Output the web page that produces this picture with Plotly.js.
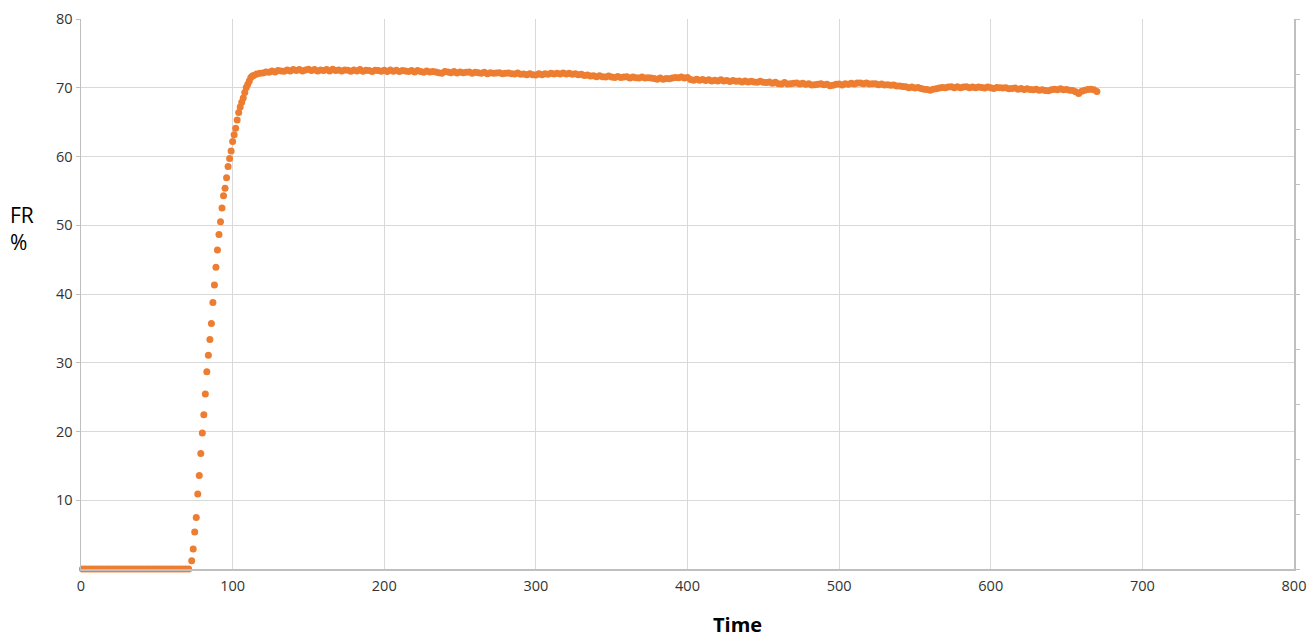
<!DOCTYPE html>
<html>
<head>
<meta charset="utf-8">
<script src="https://cdn.plot.ly/plotly-3.0.1.min.js"></script>
<style>html,body{margin:0;padding:0;background:#fff;}#chart{width:1312px;height:638px;}</style>
</head>
<body>
<div id="chart"></div>
<script>
// ---- data ----
// baseline segment: time 1..71 step 2, FR = 0
var baseStart = 1, baseStep = 2;
var baseValues = [0,0,0,0,0,0,0,0,0,0,0,0,0,0,0,0,0,0,0,0,0,0,0,0,0,0,0,0,0,0,0,0,0,0,0,0];
// rising segment: time 73..113 step 1
var riseStart = 73, riseStep = 1;
var riseValues = [1.2,2.9,5.4,7.5,10.9,13.6,16.8,19.8,22.45,25.45,
  28.7,31.1,33.4,35.7,38.75,41.3,43.9,46.4,48.65,50.5,
  52.5,54.3,55.4,56.9,58.55,59.7,60.8,62.2,63.15,64.1,
  65.3,66.4,67.2,67.9,68.5,69.3,70.05,70.5,71.0,71.5,71.7];
// plateau segment: time 114..670 step 2
var plateauStart = 114, plateauStep = 2;
var plateauValues = [
  71.8,72.0,72.1,72.15,72.3,72.25,72.45,72.3,72.5,72.45,
  72.4,72.6,72.45,72.65,72.5,72.65,72.45,72.6,72.7,72.5,
  72.65,72.45,72.6,72.5,72.65,72.45,72.7,72.5,72.6,72.45,
  72.6,72.55,72.4,72.6,72.45,72.65,72.4,72.55,72.5,72.35,
  72.55,72.5,72.4,72.55,72.35,72.6,72.4,72.55,72.35,72.5,
  72.45,72.35,72.5,72.3,72.5,72.35,72.25,72.45,72.3,72.35,
  72.3,72.2,72.1,72.35,72.3,72.2,72.35,72.15,72.3,72.2,
  72.25,72.3,72.1,72.25,72.2,72.1,72.25,72.05,72.2,72.1,
  72.15,72.2,72.05,72.1,72.15,72.05,72.0,72.15,71.95,72.0,
  71.9,72.05,71.9,71.85,72.05,71.9,72.05,71.95,72.1,72.0,
  72.1,72.0,72.15,72.0,72.1,71.95,72.05,71.9,71.95,71.8,
  71.85,71.7,71.75,71.6,71.75,71.6,71.55,71.7,71.55,71.5,
  71.65,71.5,71.55,71.6,71.4,71.55,71.45,71.4,71.55,71.4,
  71.45,71.4,71.35,71.25,71.4,71.25,71.35,71.3,71.4,71.5,
  71.45,71.55,71.4,71.5,71.2,71.1,71.25,71.1,71.2,71.05,
  71.15,71.0,71.1,71.0,71.15,71.0,71.05,70.9,71.05,70.95,
  71.0,70.85,71.0,70.85,70.95,70.85,70.8,70.95,70.8,70.75,
  70.85,70.65,70.8,70.6,70.55,70.75,70.55,70.6,70.65,70.7,
  70.55,70.65,70.5,70.6,70.4,70.45,70.5,70.6,70.45,70.5,
  70.3,70.35,70.5,70.55,70.4,70.6,70.5,70.65,70.55,70.7,
  70.7,70.6,70.7,70.55,70.6,70.6,70.45,70.55,70.4,70.45,
  70.35,70.4,70.25,70.25,70.2,70.15,70.0,70.1,69.95,70.05,
  69.9,69.8,69.75,69.65,69.8,69.85,69.95,70.05,70.0,70.1,
  70.15,70.0,70.15,70.0,70.1,70.15,70.0,70.1,70.0,70.1,
  70.05,69.95,70.1,70.0,69.9,70.05,70.0,69.95,70.0,69.85,
  69.9,69.95,69.8,69.9,69.75,69.85,69.75,69.7,69.8,69.65,
  69.7,69.6,69.55,69.7,69.8,69.7,69.85,69.7,69.75,69.65,
  69.6,69.4,69.15,69.5,69.65,69.75,69.8,69.7,69.45];
var xTickVals = [0,100,200,300,400,500,600,700,800];
var yTickVals = [10,20,30,40,50,60,70,80];
var xTitle = 'Time';
var yTitle = 'FR<br>%';

// ---- build series ----
var times = [], values = [];
function addSeg(start, step, vals){
  for (var i = 0; i < vals.length; i++){ times.push(start + i*step); values.push(vals[i]); }
}
addSeg(baseStart, baseStep, baseValues);
addSeg(riseStart, riseStep, riseValues);
addSeg(plateauStart, plateauStep, plateauValues);

var orange = '#ED7D31';
var trace = {
  x: times, y: values, type: 'scatter', mode: 'markers',
  marker: {color: orange, size: 7, line: {width: 0}},
  cliponaxis: false, hoverinfo: 'x+y', showlegend: false
};
var dummy = {x: [0], y: [0], yaxis: 'y2', type: 'scatter', mode: 'markers',
  marker: {opacity: 0}, showlegend: false, hoverinfo: 'skip'};

var layout = {
  width: 1312, height: 638,
  margin: {l: 81, r: 18, t: 19, b: 69},
  paper_bgcolor: '#ffffff', plot_bgcolor: '#ffffff',
  font: {family: 'Open Sans, sans-serif', size: 14, color: '#333333'},
  showlegend: false,
  xaxis: {
    range: [0, 800], tickvals: xTickVals, ticktext: xTickVals.map(String),
    showgrid: true, gridcolor: '#d9d9d9', gridwidth: 1,
    showline: true, linecolor: '#bfbfbf', linewidth: 1.5,
    ticks: '', zeroline: false, ticklabelstandoff: 3,
    tickfont: {family: 'Open Sans, sans-serif', size: 14.5, color: '#333333'}
  },
  yaxis: {
    range: [0, 80], tickvals: yTickVals, ticktext: yTickVals.map(String),
    showgrid: true, gridcolor: '#d9d9d9', gridwidth: 1,
    showline: true, linecolor: '#bfbfbf', linewidth: 1.5,
    ticks: 'outside', ticklen: 4, tickcolor: '#bfbfbf', zeroline: false,
    tickfont: {family: 'Open Sans, sans-serif', size: 14.5, color: '#333333'}
  },
  yaxis2: {
    overlaying: 'y', side: 'right', range: [0, 10], dtick: 1,
    showgrid: false, showline: true, linecolor: '#bfbfbf', linewidth: 1.5,
    ticks: 'outside', ticklen: 4, tickcolor: '#bfbfbf',
    showticklabels: false, zeroline: false
  },
  annotations: [
    {text: '<b>' + xTitle + '</b>', xref: 'paper', yref: 'paper', x: 0.541, y: -0.101,
     xanchor: 'center', yanchor: 'middle', showarrow: false,
     font: {family: 'Open Sans, sans-serif', size: 20, color: '#000000'}},
    {text: yTitle, xref: 'paper', yref: 'paper', x: -0.06, y: 0.62,
     xanchor: 'left', yanchor: 'middle', align: 'left', showarrow: false,
     font: {family: 'Open Sans, sans-serif', size: 21, color: '#000000'}}
  ]
};

Plotly.newPlot('chart', [trace, dummy], layout, {displayModeBar: false, staticPlot: true});
</script>
</body>
</html>
